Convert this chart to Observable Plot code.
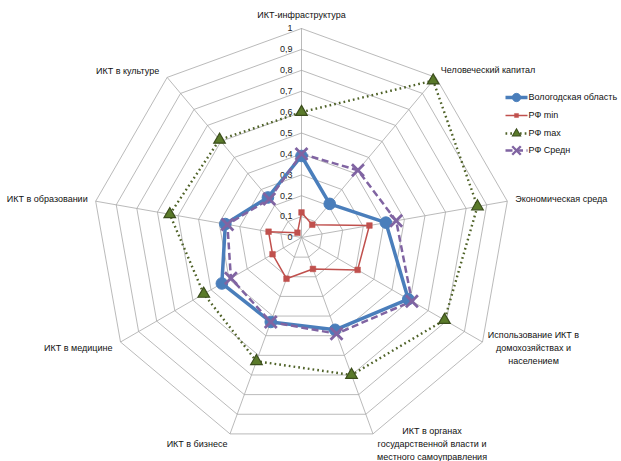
<!DOCTYPE html>
<html>
<head>
<meta charset="utf-8">
<script src="https://cdn.jsdelivr.net/npm/d3@7"></script>
<script src="https://cdn.jsdelivr.net/npm/@observablehq/plot@0.6"></script>
<style>
  html, body { margin: 0; padding: 0; background: #fff; }
  #chart { width: 621px; height: 461px; }
</style>
</head>
<body>
<div id="chart"></div>
<script>
// ---- data ----
const axesLabels = [
  "ИКТ-инфраструктура",
  "Человеческий капитал",
  "Экономическая среда",
  "Использование ИКТ в\nдомохозяйствах и\nнаселением",
  "ИКТ в органах\nгосударственной власти и\nместного самоуправления",
  "ИКТ в бизнесе",
  "ИКТ в медицине",
  "ИКТ в образовании",
  "ИКТ в культуре"
];
const seriesNames = ["Вологодская область", "РФ min", "РФ max", "РФ Средн"];
const vologda = [0.39, 0.21, 0.41, 0.59, 0.47, 0.43, 0.44, 0.37, 0.25];
const rfMin   = [0.12, 0.08, 0.33, 0.31, 0.16, 0.21, 0.16, 0.16, 0.03];
const rfMax   = [0.60, 0.98, 0.855, 0.79, 0.70, 0.63, 0.54, 0.64, 0.61];
const rfAvg   = [0.40, 0.42, 0.46, 0.61, 0.49, 0.43, 0.39, 0.36, 0.24];
const tickValues = [0, 0.1, 0.2, 0.3, 0.4, 0.5, 0.6, 0.7, 0.8, 0.9, 1];
const tickLabels = ["0", "0,1", "0,2", "0,3", "0,4", "0,5", "0,6", "0,7", "0,8", "0,9", "1"];

// ---- layout ----
const W = 621, H = 461, CX = 301, CY = 237, R = 209;
const n = axesLabels.length;
const ang = i => i * 2 * Math.PI / n;
const px = x => (x - CX) / R;   // pixel -> domain
const py = y => (CY - y) / R;

const labelLayout = [
  {anchor: "middle", dx: 0,   dy: -15},
  {anchor: "start",  dx: 5,   dy: -8},
  {anchor: "start",  dx: 8,   dy: -3},
  {anchor: "middle", dx: 51,  dy: 5},
  {anchor: "middle", dx: 59,  dy: 9},
  {anchor: "middle", dx: -33, dy: 9},
  {anchor: "end",    dx: -8,  dy: 5},
  {anchor: "end",    dx: -8,  dy: -3},
  {anchor: "end",    dx: -8,  dy: -7}
];

const styles = [
  {color: "#4a7ebb", width: 3.5, dash: null, cap: "butt", symbol: "circle", r: 5.8, fill: "#4a7ebb", mstroke: "#4a7ebb", msw: 1},
  {color: "#c0504d", width: 1.5, dash: null, cap: "butt", symbol: "square", r: 3.2, fill: "#c0504d", mstroke: "#c0504d", msw: 0.5},
  {color: "#4f6228", width: 2.4, dash: "1.7,3.1", cap: "butt", symbol: "triangle", r: 4.3, fill: "#5a7a2a", mstroke: "#3b4d1c", msw: 1.2},
  {color: "#8064a2", width: 2.5, dash: "7,3.5", cap: "butt", symbol: "times", r: 5.5, fill: "none", mstroke: "#8064a2", msw: 2.8}
];
const seriesValues = [vologda, rfMin, rfMax, rfAvg];

// build tables
const pt = (v, i) => ({x: v * Math.sin(ang(i)), y: v * Math.cos(ang(i))});
const rings = [];
tickValues.slice(1).forEach(t => {
  for (let i = 0; i <= n; i++) rings.push({...pt(t, i % n), ring: t});
});
const spokes = axesLabels.map((_, i) => ({x1: 0, y1: 0, x2: Math.sin(ang(i)), y2: Math.cos(ang(i))}));
const ticks = tickValues.map((t, i) => ({x: 0, y: t, label: tickLabels[i]}));
const labels = axesLabels.map((l, i) => ({...pt(1, i), label: l, ...labelLayout[i]}));

const marks = [
  Plot.line(rings, {x: "x", y: "y", z: "ring", stroke: "#a8a8a8", strokeWidth: 0.8}),
  Plot.link(spokes, {x1: "x1", y1: "y1", x2: "x2", y2: "y2", stroke: "#a8a8a8", strokeWidth: 0.8}),
  Plot.text(ticks, {x: "x", y: "y", text: "label", textAnchor: "end", dx: -9, fontSize: 9, fill: "#222"})
];
labels.forEach(d => {
  marks.push(Plot.text([d], {x: "x", y: "y", text: "label", textAnchor: d.anchor, dx: d.dx, dy: d.dy, fontSize: 9, lineHeight: 1.4, fill: "#111"}));
});
seriesValues.forEach((vals, s) => {
  const st = styles[s];
  const pts = vals.map((v, i) => pt(v, i));
  const closed = [...pts, pts[0]];
  marks.push(Plot.line(closed, {x: "x", y: "y", stroke: st.color, strokeWidth: st.width, strokeDasharray: st.dash, strokeLinecap: st.cap, strokeLinejoin: "round"}));
});
seriesValues.forEach((vals, s) => {
  const st = styles[s];
  const pts = vals.map((v, i) => pt(v, i));
  marks.push(Plot.dot(pts, {x: "x", y: "y", symbol: st.symbol, r: st.r, fill: st.fill, stroke: st.mstroke, strokeWidth: st.msw}));
});

// legend (inside plot area, right side)
const legX1 = 505, legX2 = 527, legRows = [97, 115, 133, 150];
seriesNames.forEach((name, s) => {
  const st = styles[s];
  const yy = py(legRows[s]);
  marks.push(Plot.line([{x: px(legX1), y: yy}, {x: px(legX2), y: yy}], {x: "x", y: "y", stroke: st.color, strokeWidth: st.width, strokeDasharray: st.dash, strokeLinecap: st.cap}));
  marks.push(Plot.dot([{x: px((legX1 + legX2) / 2), y: yy}], {x: "x", y: "y", symbol: st.symbol, r: st.r * 0.72, fill: st.fill, stroke: st.mstroke, strokeWidth: st.msw * 0.85}));
  marks.push(Plot.text([{x: px(legX2 + 1), y: yy, t: name}], {x: "x", y: "y", text: "t", textAnchor: "start", fontSize: 9, fill: "#111"}));
});

const chart = Plot.plot({
  width: W, height: H,
  margin: 0,
  style: {background: "#fff", fontFamily: "'Liberation Sans', Arial, sans-serif"},
  x: {domain: [px(0), px(W)], range: [0, W], axis: null},
  y: {domain: [py(H), py(0)], range: [H, 0], axis: null},
  marks
});
document.getElementById("chart").appendChild(chart);
</script>
</body>
</html>
